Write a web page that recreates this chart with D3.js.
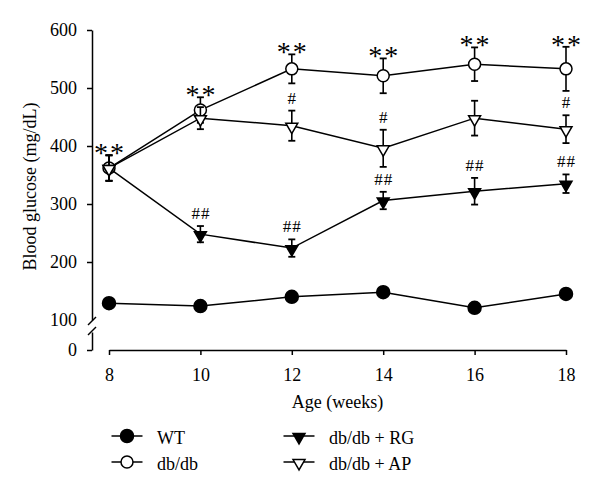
<!DOCTYPE html>
<html>
<head>
<meta charset="utf-8">
<script src="https://cdn.jsdelivr.net/npm/d3@7"></script>
<style>
  body { margin: 0; background: #fff; }
  svg { display: block; }
  .lbl { font-family: 'Liberation Serif', 'Times New Roman', serif; fill: #000; }
</style>
</head>
<body>
<div id="chart"></div>
<script>
const weeks = [8, 10, 12, 14, 16, 18];
const yTicks = [100, 200, 300, 400, 500, 600];

const wtMean = [129, 124, 140, 148, 121, 145];
const wtErr = [4, 4, 4, 4, 4, 4];
const dbMean = [362, 462, 533, 521, 541, 533];
const dbErr = [22, 22, 25, 30, 29, 38];
const rgMean = [362, 248, 224, 306, 322, 335];
const rgErr = [22, 14, 15, 15, 23, 16];
const apMean = [362, 448, 435, 396, 448, 429];
const apErr = [22, 19, 26, 32, 30, 24];

const dbMarks = ['**', '**', '**', '**', '**', '**'];
const rgMarks = ['', '##', '##', '##', '##', '##'];
const apMarks = ['', '', '#', '#', '', '#'];

const width = 600, height = 493;
const font = "'Liberation Serif', 'Times New Roman', serif";

const svg = d3.select('#chart').append('svg')
  .attr('width', width)
  .attr('height', height);

const x = d3.scaleLinear().domain([8, 18]).range([109, 566]);
const y = d3.scaleLinear().domain([100, 600]).range([320, 30]);
const yLow = d3.scaleLinear().domain([0, 20]).range([350, 332]);
const axisX = 92;

// y axis, upper part
const gy = svg.append('g')
  .attr('transform', `translate(${axisX},0)`)
  .call(d3.axisLeft(y).tickValues(yTicks).tickSize(5).tickSizeOuter(0).tickPadding(10))
  .attr('font-family', font)
  .attr('font-size', 18);
gy.selectAll('.tick').filter(d => d === 100).select('line').remove();

// y axis, lower part under the break
svg.append('g')
  .attr('transform', `translate(${axisX},0)`)
  .call(d3.axisLeft(yLow).tickValues([0]).tickSize(5).tickSizeOuter(0).tickPadding(10))
  .attr('font-family', font)
  .attr('font-size', 18);

// break marks
[y(100) + 1, yLow(20) - 1].forEach(c => {
  svg.append('line')
    .attr('x1', axisX - 4).attr('y1', c + 4)
    .attr('x2', axisX + 4).attr('y2', c - 4)
    .attr('stroke', '#000').attr('stroke-width', 1.5);
});

// x axis
svg.append('g')
  .attr('transform', `translate(0,${yLow(0)})`)
  .call(d3.axisBottom(x).tickValues(weeks).tickSize(5).tickSizeOuter(0).tickPadding(13))
  .attr('font-family', font)
  .attr('font-size', 18);

svg.selectAll('.domain, .tick line').attr('stroke-width', 1.5);
svg.selectAll('.tick text').attr('fill', '#000');

svg.append('text')
  .attr('class', 'lbl')
  .attr('x', x(13))
  .attr('y', 408)
  .attr('text-anchor', 'middle')
  .attr('font-size', 18)
  .text('Age (weeks)');

svg.append('text')
  .attr('class', 'lbl')
  .attr('transform', `translate(36,${y(330)}) rotate(-90)`)
  .attr('text-anchor', 'middle')
  .attr('font-size', 18)
  .text('Blood glucose (mg/dL)');

const tri = d3.symbol(d3.symbolTriangle);

function marker(g, kind, fill, cx, cy) {
  if (kind === 'circle') {
    g.append('circle')
      .attr('cx', cx).attr('cy', cy)
      .attr('r', fill === '#000' ? 6.5 : 6)
      .attr('fill', fill).attr('stroke', '#000').attr('stroke-width', 1.5);
  } else {
    g.append('path')
      .attr('d', tri.size(62)())
      .attr('transform', `translate(${cx},${cy + 1}) rotate(180)`)
      .attr('fill', fill).attr('stroke', '#000').attr('stroke-width', 1.5);
  }
}

function drawSeries(means, errs, kind, fill) {
  const data = weeks.map((w, i) => ({ w, m: means[i], e: errs[i] }));
  const g = svg.append('g');
  g.append('path')
    .datum(data)
    .attr('fill', 'none')
    .attr('stroke', '#000')
    .attr('stroke-width', 1.5)
    .attr('d', d3.line().x(d => x(d.w)).y(d => y(d.m)));
  data.forEach(d => {
    const cx = x(d.w);
    g.append('line')
      .attr('x1', cx).attr('x2', cx)
      .attr('y1', y(d.m + d.e)).attr('y2', y(d.m - d.e))
      .attr('stroke', '#000').attr('stroke-width', 1.6);
    [d.m + d.e, d.m - d.e].forEach(v => {
      g.append('line')
        .attr('x1', cx - 3.5).attr('x2', cx + 3.5)
        .attr('y1', y(v)).attr('y2', y(v))
        .attr('stroke', '#000').attr('stroke-width', 1.8);
    });
    marker(g, kind, fill, cx, y(d.m));
  });
}

drawSeries(wtMean, wtErr, 'circle', '#000');
drawSeries(dbMean, dbErr, 'circle', '#fff');
drawSeries(rgMean, rgErr, 'tri', '#000');
drawSeries(apMean, apErr, 'tri', '#fff');

// significance marks
function drawMarks(marks, means, errs, size, dy, spacing) {
  marks.forEach((t, i) => {
    if (!t) return;
    svg.append('text')
      .attr('class', 'lbl')
      .attr('x', x(weeks[i]) + spacing / 2)
      .attr('y', y(means[i] + errs[i]) + dy)
      .attr('text-anchor', 'middle')
      .attr('font-size', size)
      .attr('letter-spacing', spacing)
      .attr('fill', '#333')
      .text(t);
  });
}
drawMarks(dbMarks, dbMean, dbErr, 28, 7, 2);
drawMarks(rgMarks, rgMean, rgErr, 17, -7, 1);
drawMarks(apMarks, apMean, apErr, 17, -7, 1);

// legend
const legendNames = ['WT', 'db/db', 'db/db + RG', 'db/db + AP'];
const legendKind = ['circle', 'circle', 'tri', 'tri'];
const legendFill = ['#000', '#fff', '#000', '#fff'];
const legendX = [127, 127, 299, 299];
const legendY = [436, 462, 436, 462];

legendNames.forEach((name, i) => {
  const g = svg.append('g');
  g.append('line')
    .attr('x1', legendX[i] - 15.5).attr('x2', legendX[i] + 15.5)
    .attr('y1', legendY[i]).attr('y2', legendY[i])
    .attr('stroke', '#000').attr('stroke-width', 1.5);
  marker(g, legendKind[i], legendFill[i], legendX[i], legendY[i]);
  g.append('text')
    .attr('class', 'lbl')
    .attr('x', legendX[i] + 30)
    .attr('y', legendY[i] + 8)
    .attr('font-size', 18)
    .text(name);
});
</script>
</body>
</html>
